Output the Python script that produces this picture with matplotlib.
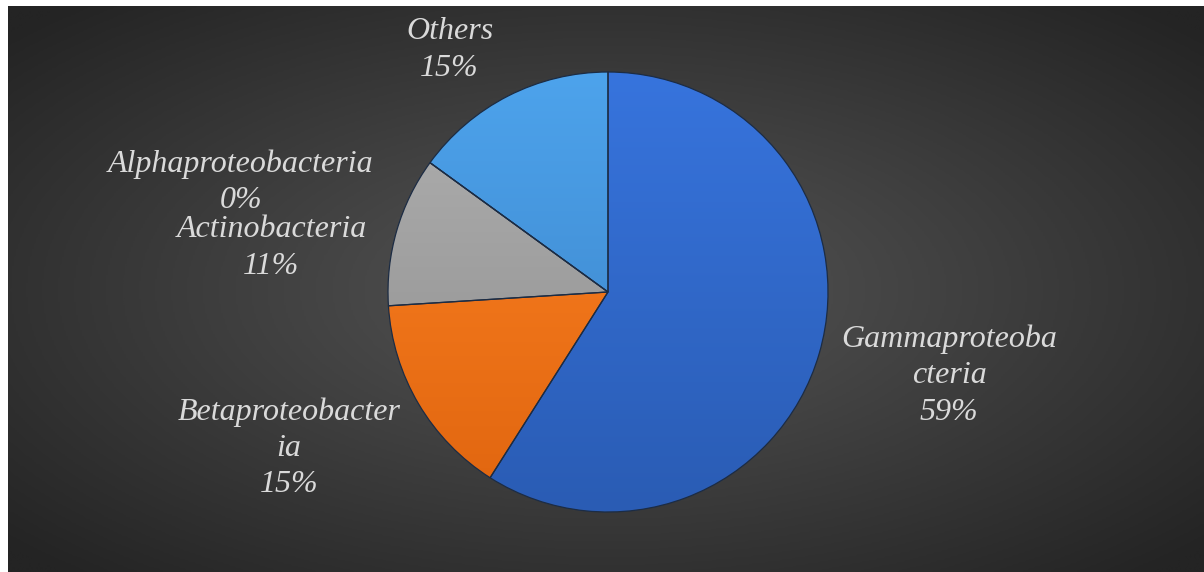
import numpy as np
import matplotlib.pyplot as plt
from matplotlib.colors import LinearSegmentedColormap

# Composición de la comunidad bacteriana (%)
grupos = ["Gammaproteobacteria", "Betaproteobacteria", "Actinobacteria",
          "Alphaproteobacteria", "Others"]
porcentajes = [59, 15, 11, 0, 15]
etiquetas = ["Gammaproteoba\ncteria\n59%", "Betaproteobacter\nia\n15%",
             "Actinobacteria\n11%", "Alphaproteobacteria\n0%", "Others\n15%"]
colores_top = ["#3774dd", "#ff8424", "#b0b0b0", "#a0a0a0", "#4da3ec"]
colores_bottom = ["#2a5cb4", "#e0650f", "#8c8c8c", "#8c8c8c", "#3a80c4"]

# posicion de cada etiqueta (en radios del pastel)
pos_etiquetas = [(1.55, -0.38), (-1.45, -0.71), (-1.53, 0.20), (-1.67, 0.50), (-0.72, 1.10)]

W, H = 1204, 572
R = 220.0
cx, cy = 608, 292

fig = plt.figure(figsize=(W / 100, H / 100), dpi=100)
fig.patch.set_facecolor("white")

# Fondo con degradado radial
ax_bg = fig.add_axes([8 / W, 0, 1 - 8 / W, 1 - 6 / H])
yy, xx = np.mgrid[0:300, 0:600]
d = np.sqrt(((xx - 300) / 300) ** 2 + ((yy - 150) / 150) ** 2)
fondo = LinearSegmentedColormap.from_list("fondo", ["#565656", "#242424"])
ax_bg.imshow(np.clip(d / 1.35, 0, 1), cmap=fondo, vmin=0, vmax=1, aspect="auto",
             interpolation="bilinear")
ax_bg.axis("off")

ax = fig.add_axes([0, 0, 1, 1])
ax.patch.set_alpha(0)

wedges, _ = ax.pie(porcentajes, startangle=90, counterclock=False, radius=1.0,
                   colors=colores_top,
                   wedgeprops=dict(edgecolor="#1c2c44", linewidth=0.9))

# degradado vertical dentro de cada sector
gy = np.linspace(1, 0, 200)[:, None] * np.ones((1, 2))
for w, c1, c2 in zip(wedges, colores_top, colores_bottom):
    cmap = LinearSegmentedColormap.from_list("g", [c2, c1])
    im = ax.imshow(gy, cmap=cmap, extent=(-1, 1, -1, 1), aspect="auto",
                   interpolation="bilinear", zorder=w.get_zorder() + 0.1, origin="upper")
    im.set_clip_path(w)
    w.set_facecolor("none")
    w.set_zorder(w.get_zorder() + 0.2)

for txt, (x, y) in zip(etiquetas, pos_etiquetas):
    ax.text(x, y, txt, ha="center", va="center", color="#dadada",
            fontsize=23, fontstyle="italic", family="Liberation Serif",
            linespacing=1.33)

ax.set_aspect("auto")
ax.set_xlim(-cx / R, (W - cx) / R)
ax.set_ylim(-(H - cy) / R, cy / R)
ax.axis("off")

plt.savefig("out.png", dpi=100, facecolor=fig.get_facecolor())
